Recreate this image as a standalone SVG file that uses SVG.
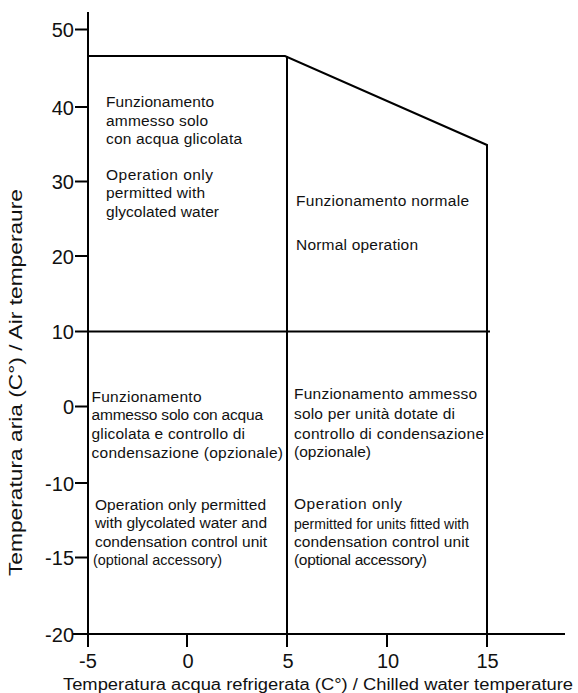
<svg xmlns="http://www.w3.org/2000/svg" width="578" height="693" viewBox="0 0 578 693">
<style>
.ln{stroke:#000;stroke-width:2;fill:none;stroke-linecap:butt}
.t{font-family:"Liberation Sans",Arial,sans-serif;font-size:15.5px;fill:#111}
.s{font-size:14px}
.tk{font-family:"Liberation Sans",Arial,sans-serif;font-size:20px;fill:#111}
.ttl{font-family:"Liberation Sans",Arial,sans-serif;font-size:16px;fill:#111}
</style>
<rect width="578" height="693" fill="#fff"/>
<g id="axes">
<line class="ln" x1="88" y1="12" x2="88" y2="647"/>
<line class="ln" x1="73" y1="634" x2="565" y2="634"/>
<g id="y-ticks">
<line class="ln" x1="75" y1="29.5" x2="88" y2="29.5"/>
<line class="ln" x1="75" y1="107" x2="88" y2="107"/>
<line class="ln" x1="75" y1="181.5" x2="88" y2="181.5"/>
<line class="ln" x1="75" y1="256" x2="88" y2="256"/>
<line class="ln" x1="75" y1="406.5" x2="88" y2="406.5"/>
<line class="ln" x1="75" y1="483" x2="88" y2="483"/>
<line class="ln" x1="75" y1="557.5" x2="88" y2="557.5"/>
</g>
<g id="x-ticks">
<line class="ln" x1="187" y1="634" x2="187" y2="647"/>
<line class="ln" x1="287" y1="634" x2="287" y2="647"/>
<line class="ln" x1="387" y1="634" x2="387" y2="647"/>
<line class="ln" x1="487" y1="634" x2="487" y2="647"/>
</g>
<g id="y-labels" text-anchor="end">
<text class="tk" x="74" y="37">50</text>
<text class="tk" x="74" y="114.5">40</text>
<text class="tk" x="74" y="189">30</text>
<text class="tk" x="74" y="263.5">20</text>
<text class="tk" x="74" y="339">10</text>
<text class="tk" x="74" y="414">0</text>
<text class="tk" x="74" y="490.5">-10</text>
<text class="tk" x="74" y="565">-15</text>
<text class="tk" x="74" y="641.5">-20</text>
</g>
<g id="x-labels" text-anchor="middle">
<text class="tk" x="88" y="668">-5</text>
<text class="tk" x="188" y="668">0</text>
<text class="tk" x="288" y="668">5</text>
<text class="tk" x="388" y="668">10</text>
<text class="tk" x="487.5" y="668">15</text>
</g>
<text id="x-title" class="ttl" x="63" y="690" textLength="510" lengthAdjust="spacingAndGlyphs">Temperatura acqua refrigerata (C°) / Chilled water temperature</text>
<text id="y-title" class="ttl" style="font-size:17.5px" transform="translate(21.5,382.5) rotate(-90)" text-anchor="middle" textLength="387" lengthAdjust="spacingAndGlyphs">Temperatura aria (C°) / Air temperaure</text>
</g>
<g id="boundaries">
<polyline class="ln" points="88,56 285,56 487,145 487,634"/>
<line class="ln" x1="287" y1="56" x2="287" y2="634"/>
<line class="ln" x1="75" y1="331.5" x2="490" y2="331.5"/>
</g>
<g id="zone-glycol">
<text class="t" x="106" y="107" textLength="108">Funzionamento</text>
<text class="t" x="106" y="126" textLength="102">ammesso  solo</text>
<text class="t" x="106" y="144" textLength="136">con  acqua  glicolata</text>
<text class="t" x="106" y="180" textLength="107">Operation  only</text>
<text class="t" x="106" y="198" textLength="99">permitted  with</text>
<text class="t" x="106" y="217" textLength="113">glycolated  water</text>
</g>
<g id="zone-normal">
<text class="t" x="296" y="206" textLength="173">Funzionamento  normale</text>
<text class="t" x="296" y="250" textLength="122">Normal  operation</text>
</g>
<g id="zone-glycol-condensation">
<text class="t" x="91.5" y="401.5" textLength="110">Funzionamento</text>
<text class="t" x="91.5" y="420" textLength="171.5">ammesso  solo  con  acqua</text>
<text class="t" x="91.5" y="439" textLength="153.5">glicolata  e  controllo  di</text>
<text class="t" x="91.5" y="458" textLength="191.5">condensazione  (opzionale)</text>
<text class="t" x="95" y="510" textLength="171">Operation only  permitted</text>
<text class="t" x="95" y="528" textLength="172">with glycolated water and</text>
<text class="t" x="95" y="547" textLength="172">condensation  control  unit</text>
<text class="t" x="93" y="565" textLength="129" lengthAdjust="spacingAndGlyphs">(optional  accessory)</text>
</g>
<g id="zone-condensation">
<text class="t" x="294" y="399" textLength="183">Funzionamento  ammesso</text>
<text class="t" x="294" y="419" textLength="161">solo  per  unità  dotate  di</text>
<text class="t" x="294" y="439" textLength="190">controllo  di  condensazione</text>
<text class="t" x="294" y="457" textLength="77">(opzionale)</text>
<text class="t" x="294" y="509" textLength="108">Operation  only</text>
<text class="t s" x="294" y="529" textLength="175">permitted for units fitted with</text>
<text class="t" x="294" y="547" textLength="175">condensation  control  unit</text>
<text class="t" x="294" y="565" textLength="133">(optional  accessory)</text>
</g>
</svg>
